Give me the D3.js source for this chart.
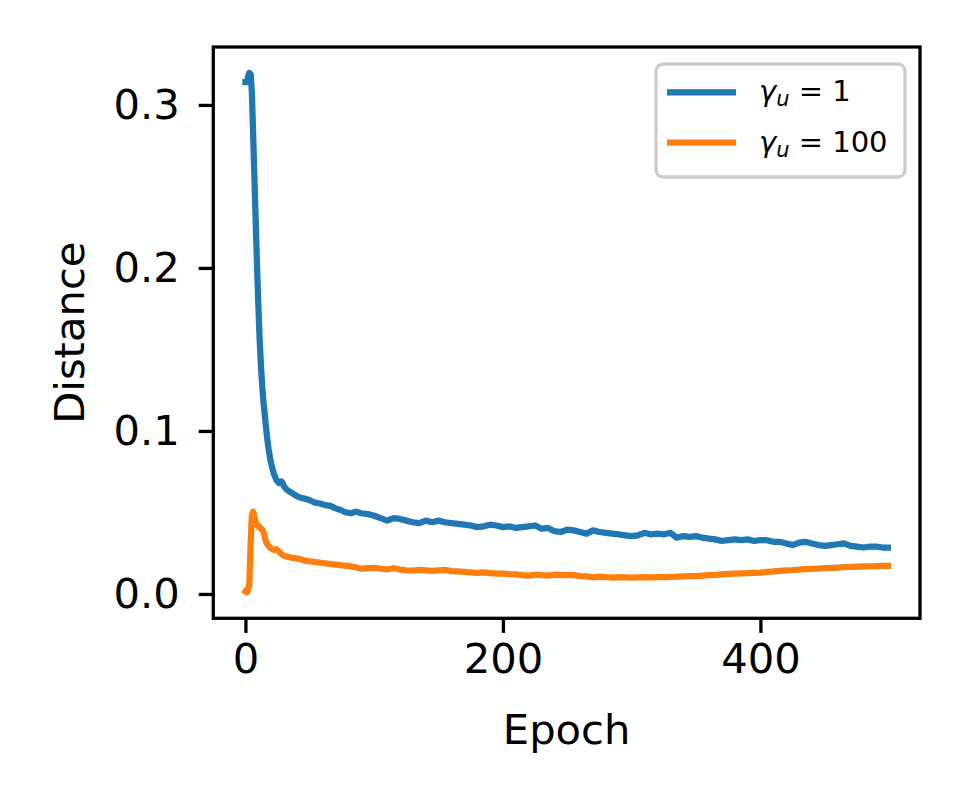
<!DOCTYPE html>
<html lang="en">
<head>
    <meta charset="UTF-8">
    <title>Distance vs Epoch</title>
    <style>
        body { margin: 0; background: #fff; }
        text { font-family: "DejaVu Sans", sans-serif; }
    </style>
</head>
<body>

    <svg id="svg" width="969" height="807"></svg>

    <script src="https://d3js.org/d3.v7.min.js"></script>
    <script>
        // values
        const blueEpochs = [0,1,2,3,4,5,6,7,8,9,10,11,12,13,14,15,16,17,18,19,20,21,22,23,24,25,26,27,28,29,30,32,34,36,38,
            40,43,46,50,54,58,62,66,70,74,78,82,86,90,95,100,105,110,115,120,125,130,135,140,145,150,155,160,165,170,175,
            180,185,190,195,200,205,210,215,220,225,230,235,240,245,250,255,260,265,270,275,280,285,290,295,300,305,310,
            315,320,325,330,335,340,345,350,355,360,365,370,375,380,385,390,395,400,405,410,415,420,425,430,435,440,445,
            450,455,460,465,470,475,480,485,490,495,499]
        const blueValues = [0.314,0.314,0.317,0.3196,0.319,0.308,0.282,0.255,0.228,0.202,0.178,0.157,0.141,0.128,0.118,
            0.110,0.102,0.095,0.089,0.084,0.080,0.077,0.074,0.072,0.070,0.069,0.068,0.068,0.069,0.068,0.066,0.064,0.063,
            0.062,0.061,
            0.0600,0.0590,0.0585,0.0575,0.0560,0.0555,0.0545,0.0540,0.0525,0.0515,0.0500,0.0495,0.0505,0.0495,0.0490,
            0.0480,0.0465,0.0450,0.0465,0.0460,0.0450,0.0440,0.0435,0.0450,0.0440,0.0450,0.0440,0.0435,0.0430,0.0425,
            0.0420,0.0410,0.0415,0.0425,0.0420,0.0410,0.0415,0.0405,0.0410,0.0415,0.0420,0.0400,0.0405,0.0385,0.0380,
            0.0395,0.0390,0.0380,0.0370,0.0390,0.0380,0.0375,0.0370,0.0365,0.0360,0.0355,0.0360,0.0375,0.0365,0.0370,
            0.0365,0.0375,0.0345,0.0355,0.0350,0.0355,0.0345,0.0340,0.0335,0.0325,0.0330,0.0335,0.0330,0.0335,0.0325,
            0.0330,0.0330,0.0320,0.0320,0.0310,0.0300,0.0315,0.0320,0.0310,0.0300,0.0295,0.0300,0.0305,0.0310,0.0295,
            0.0290,0.0285,0.0290,0.0290,0.0285,0.0285]

        const orangeEpochs = [0,1,2,3,4,5,6,7,8,9,10,11,12,13,14,15,16,17,18,19,20,22,24,26,28,30,34,38,42,46,50,55,60,
            65,70,75,80,85,90,95,100,105,110,115,120,125,130,135,140,145,150,155,160,165,170,175,180,185,190,195,200,205,
            210,215,220,225,230,235,240,245,250,255,260,265,270,275,280,285,290,295,300,305,310,315,320,325,330,335,340,
            345,350,355,360,365,370,375,380,385,390,395,400,405,410,415,420,425,430,435,440,445,450,455,460,465,470,475,
            480,485,490,495,499]
        const orangeValues = [0.0015,0.0010,0.0025,0.0060,0.0300,0.0480,0.0505,0.0470,0.0440,0.0425,0.0415,0.0410,
            0.0400,0.0395,0.0380,0.0350,0.0320,0.0305,0.0295,0.0285,0.0280,0.0270,0.0275,0.0260,0.0245,0.0235,0.0225,
            0.0220,0.0215,0.0205,0.0200,0.0195,0.0190,0.0185,0.0180,0.0175,0.0172,0.0165,0.0155,0.0158,0.0160,0.0155,
            0.0150,0.0158,0.0150,0.0145,0.0143,0.0148,0.0145,0.0142,0.0145,0.0148,0.0140,0.0138,0.0135,0.0132,0.0130,
            0.0132,0.0128,0.0125,0.0125,0.0122,0.0120,0.0115,0.0112,0.0118,0.0115,0.0112,0.0118,0.0115,0.0117,0.0115,
            0.0110,0.0108,0.0102,0.0106,0.0104,0.0100,0.0103,0.0102,0.0100,0.0102,0.0104,0.0102,0.0104,0.0103,0.0105,
            0.0106,0.0108,0.0110,0.0110,0.0112,0.0115,0.0117,0.0120,0.0123,0.0125,0.0127,0.0128,0.0130,0.0131,0.0135,
            0.0138,0.0142,0.0145,0.0147,0.0150,0.0152,0.0154,0.0156,0.0158,0.0160,0.0162,0.0164,0.0166,0.0168,0.0169,
            0.0170,0.0171,0.0172,0.0172]

        const seriesNames = ['1', '100']
        const seriesColors = ['#1f77b4', '#ff7f0e']
        const xTicks = [0, 200, 400]
        const yTicks = [0, 0.1, 0.2, 0.3]

        const series = [
            { name: seriesNames[0], color: seriesColors[0], pts: blueEpochs.map((e, i) => [e, blueValues[i]]) },
            { name: seriesNames[1], color: seriesColors[1], pts: orangeEpochs.map((e, i) => [e, orangeValues[i]]) }
        ]

        // plot box (pixels)
        const boxL = 213.3, boxR = 920, boxT = 47, boxB = 618.3
        const fs = 41.7  // 10pt at 300 dpi
        const lw = 3.3   // spine width

        // matplotlib-like 5% margins
        const xExt = [0, 499]
        const allY = blueValues.concat(orangeValues)
        const yExt = d3.extent(allY)
        const xPad = (xExt[1] - xExt[0]) * 0.05
        const yPad = (yExt[1] - yExt[0]) * 0.05

        const xScale = d3.scaleLinear()
            .domain([xExt[0] - xPad, xExt[1] + xPad])
            .range([boxL, boxR])

        const yScale = d3.scaleLinear()
            .domain([yExt[0] - yPad, yExt[1] + yPad])
            .range([boxB, boxT])

        const svg = d3.select('#svg')
        svg.append('rect').attr('width', 969).attr('height', 807).attr('fill', '#fff')

        // lines
        const line = d3.line()
            .x(d => xScale(d[0]))
            .y(d => yScale(d[1]))

        svg.append('g')
            .selectAll('path')
            .data(series)
            .enter()
            .append('path')
            .attr('d', d => line(d.pts))
            .attr('fill', 'none')
            .attr('stroke', d => d.color)
            .attr('stroke-width', 6.25)
            .attr('stroke-linejoin', 'round')
            .attr('stroke-linecap', 'square')

        // axes
        const xAxis = svg.append('g')
            .attr('transform', `translate(0,${boxB})`)
            .call(d3.axisBottom(xScale).tickValues(xTicks).tickSize(14.6).tickPadding(10))
        const yAxis = svg.append('g')
            .attr('transform', `translate(${boxL},0)`)
            .call(d3.axisLeft(yScale).tickValues(yTicks).tickFormat(d3.format('.1f')).tickSize(14.6).tickPadding(19))

        for (const ax of [xAxis, yAxis]) {
            ax.select('.domain').remove()
            ax.selectAll('line').attr('stroke', '#000').attr('stroke-width', lw)
            ax.selectAll('text')
                .attr('fill', '#000')
                .style('font-family', '"DejaVu Sans"')
                .style('font-size', fs + 'px')
        }

        // frame
        svg.append('rect')
            .attr('x', boxL)
            .attr('y', boxT)
            .attr('width', boxR - boxL)
            .attr('height', boxB - boxT)
            .attr('fill', 'none')
            .attr('stroke', '#000')
            .attr('stroke-width', lw)

        // axis labels
        svg.append('text')
            .text('Epoch')
            .attr('x', (boxL + boxR) / 2)
            .attr('y', 744)
            .attr('text-anchor', 'middle')
            .style('font-size', fs + 'px')

        svg.append('text')
            .text('Distance')
            .attr('transform', `translate(84,${(boxT + boxB) / 2}) rotate(-90)`)
            .attr('text-anchor', 'middle')
            .style('font-size', fs + 'px')

        // legend
        const lg = svg.append('g')
        lg.append('rect')
            .attr('x', 656)
            .attr('y', 64)
            .attr('width', 249)
            .attr('height', 113)
            .attr('rx', 7)
            .attr('fill', '#fff')
            .attr('fill-opacity', 0.8)
            .attr('stroke', '#cccccc')
            .attr('stroke-width', lw)

        const rows = lg.selectAll('g.row')
            .data(series)
            .enter()
            .append('g')
            .attr('transform', (d, i) => `translate(0,${92.3 + i * 50.4})`)

        rows.append('line')
            .attr('x1', 667)
            .attr('x2', 736)
            .attr('stroke', d => d.color)
            .attr('stroke-width', 6.25)

        const lt = rows.append('text')
            .attr('x', 759)
            .attr('y', 9)
            .style('font-size', '29px')
        lt.append('tspan').text('γ').style('font-style', 'italic')
        lt.append('tspan').text('u').style('font-style', 'italic').style('font-size', '21px').attr('dy', 5)
        lt.append('tspan').text(d => ' = ' + d.name).attr('dy', -5)
    </script>
</body>
</html>
